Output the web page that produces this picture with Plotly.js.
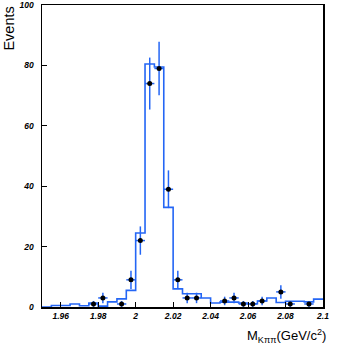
<!DOCTYPE html>
<html>
<head>
<meta charset="utf-8">
<script src="https://cdn.plot.ly/plotly-3.0.1.min.js"></script>
<style>
  html, body { margin: 0; padding: 0; background: #fff; }
  #chart { width: 346px; height: 346px; }
</style>
</head>
<body>
<div id="chart"></div>
<script>
// Histogram definition: 30 bins of 5 MeV from 1.95 to 2.10 GeV/c^2
const binStart = 1.95;
const binWidth = 0.005;

// Expected (MC) histogram contents per bin, left to right
const histValues = [0, 0.5, 0.5, 1.0, 0.4, 1.3, 0.3, 1.7, 2.7, 5.5,
                    24.5, 80.5, 79.5, 33.0, 6.0, 4.4, 4.4, 3.0, 1.3, 1.6,
                    1.6, 1.3, 1.1, 2.0, 3.0, 1.5, 1.9, 1.9, 1.7, 2.6];

// Observed data points (bin centres and event counts)
const dataMass = [1.9775, 1.9825, 1.9925, 1.9975, 2.0025, 2.0075, 2.0125, 2.0175, 2.0225,
                  2.0275, 2.0325, 2.0475, 2.0525, 2.0575, 2.0625, 2.0675, 2.0775, 2.0825, 2.0925];
const dataCounts = [1, 3, 1, 9, 22, 74, 79, 39, 9,
                    3, 3, 2, 3, 1, 1, 2, 5, 1, 1];

// Axis ticks
const xTickVals = [1.96, 1.98, 2.0, 2.02, 2.04, 2.06, 2.08, 2.1];
const xTickText = ['1.96', '1.98', '2', '2.02', '2.04', '2.06', '2.08', '2.1'];
const yTickVals = [0, 20, 40, 60, 80, 100];

const blue = '#2466f5';

// step outline: one point per bin edge, last value repeated so the final bin is closed
const stepX = histValues.map((_, i) => binStart + i * binWidth);
stepX.push(binStart + histValues.length * binWidth);
const stepY = histValues.concat([histValues[histValues.length - 1]]);

const histTrace = {
    x: stepX,
    y: stepY,
    type: 'scatter',
    mode: 'lines',
    line: { shape: 'hv', color: blue, width: 1.6 },
    hoverinfo: 'skip'
};

const dataTrace = {
    x: dataMass,
    y: dataCounts,
    type: 'scatter',
    mode: 'markers',
    marker: { color: '#000', size: 5, symbol: 'circle' },
    error_y: {
        type: 'data',
        array: dataCounts.map(n => Math.sqrt(n)),
        color: blue, thickness: 1.5, width: 0
    },
    error_x: {
        type: 'constant',
        value: binWidth / 2,
        color: blue, thickness: 1.5, width: 0
    }
};

const tickFont = { family: 'Liberation Sans, Arial, sans-serif', size: 8.5, color: '#000', style: 'italic', weight: 'bold' };
const titleFont = { family: 'Liberation Sans, Arial, sans-serif', size: 13, color: '#000' };

const layout = {
    width: 346,
    height: 346,
    margin: { l: 42, r: 23, t: 5, b: 39 },
    paper_bgcolor: '#fff',
    plot_bgcolor: '#fff',
    showlegend: false,
    xaxis: {
        range: [1.95, 2.1],
        tickvals: xTickVals,
        ticktext: xTickText,
        ticks: 'inside',
        ticklen: 5,
        tickwidth: 1,
        tickcolor: '#000',
        tickfont: tickFont,
        showgrid: false,
        zeroline: false,
        showline: true,
        linecolor: '#000',
        linewidth: 1.5,
        mirror: true
    },
    yaxis: {
        // a hair above 100 so the top label is kept
        range: [0, 100.02],
        tickvals: yTickVals,
        ticks: 'inside',
        ticklen: 5,
        tickwidth: 1,
        tickcolor: '#000',
        tickfont: tickFont,
        ticklabelstandoff: 5,
        showgrid: false,
        zeroline: false,
        showline: true,
        linecolor: '#000',
        linewidth: 1.5,
        mirror: true
    },
    annotations: [
        {
            text: 'Events',
            xref: 'paper', yref: 'paper',
            x: 0, y: 0.922,
            xanchor: 'center', yanchor: 'middle',
            xshift: -33,
            textangle: -90,
            showarrow: false,
            font: { family: titleFont.family, size: 14.5, color: '#000' }
        },
        {
            text: 'M<sub>Kππ</sub>(GeV/c<sup>2</sup>)',
            xref: 'paper', yref: 'paper',
            x: 1, y: 0,
            xanchor: 'right', yanchor: 'top',
            xshift: 5, yshift: -18,
            showarrow: false,
            font: titleFont
        }
    ]
};

Plotly.newPlot('chart', [histTrace, dataTrace], layout, { staticPlot: true });
</script>
</body>
</html>
